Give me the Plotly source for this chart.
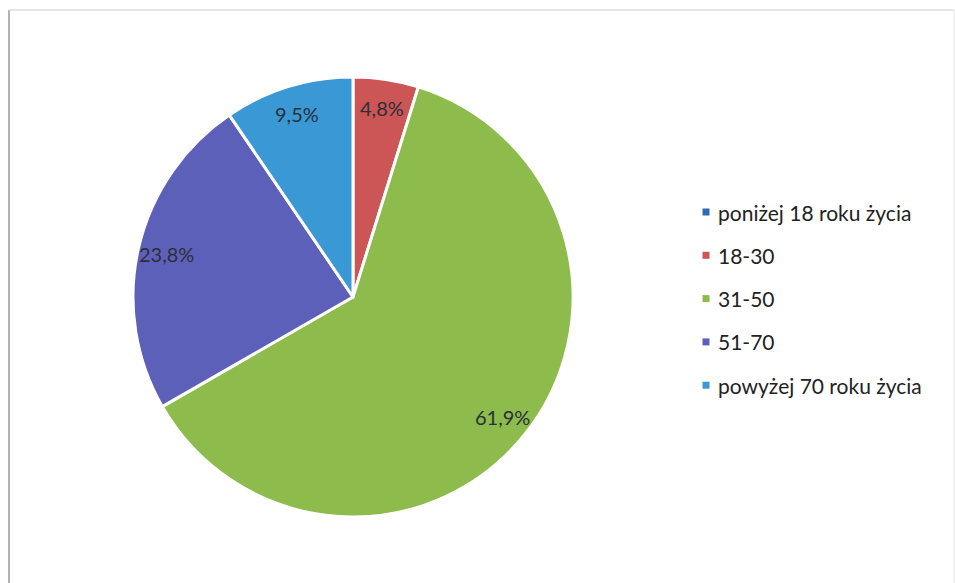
import math
import plotly.graph_objects as go

# Age groups and their shares (%)
categories = ["poniżej 18 roku życia", "18-30", "31-50", "51-70", "powyżej 70 roku życia"]
shares = [0.0, 4.8, 61.9, 23.8, 9.5]
colors = ["#2f6bb5", "#cc5656", "#8dbb4c", "#5d60b8", "#3a98d4"]

W, H = 955, 583
cx, cy, R = 353, 297, 220  # pie centre and radius in pixels

def px(x):
    return x / W

def py(y):
    return 1 - y / H

fig = go.Figure()
fig.add_trace(go.Pie(
    labels=categories,
    values=shares,
    marker=dict(colors=colors, line=dict(color="white", width=3)),
    sort=False,
    direction="clockwise",
    rotation=0,
    textinfo="none",
    hoverinfo="label+percent",
    showlegend=False,
    domain=dict(x=[px(cx - R), px(cx + R)], y=[py(cy + R), py(cy - R)]),
))

annotations = []
shapes = []

# Percentage labels placed along each slice's mid-angle
total = sum(shares)
cum = 0.0
for name, v in zip(categories, shares):
    if v > 0:
        mid = (cum + v / 2) / total * 2 * math.pi
        r = 0.87 * R
        lx = cx + r * math.sin(mid)
        ly = cy - r * math.cos(mid)
        annotations.append(dict(
            x=px(lx), y=py(ly), xref="paper", yref="paper",
            xanchor="center", yanchor="middle",
            text=f"{v:.1f}%".replace(".", ","), showarrow=False,
            font=dict(family="Lato, Carlito, sans-serif", size=20, color="#2a2f3a"),
        ))
    cum += v

# Legend: small squares with labels
leg_x, leg_y0, leg_dy = 706, 212, 43.3
for i, (name, c) in enumerate(zip(categories, colors)):
    y = leg_y0 + i * leg_dy
    shapes.append(dict(type="rect", xref="paper", yref="paper",
                       x0=px(leg_x - 3.5), x1=px(leg_x + 3.5),
                       y0=py(y + 3.5), y1=py(y - 3.5),
                       fillcolor=c, line=dict(width=0)))
    annotations.append(dict(
        x=px(leg_x + 10), y=py(y), xref="paper", yref="paper",
        text=name, showarrow=False, xanchor="left", yanchor="middle",
        font=dict(family="Lato, Carlito, sans-serif", size=21, color="#222222"),
    ))

# Chart frame
shapes.append(dict(type="line", xref="paper", yref="paper",
                   x0=px(9), x1=px(9), y0=py(10), y1=py(583),
                   line=dict(color="#9a9a9a", width=1.5)))
shapes.append(dict(type="line", xref="paper", yref="paper",
                   x0=px(9), x1=px(954), y0=py(10), y1=py(10),
                   line=dict(color="#dddddd", width=1.5)))
shapes.append(dict(type="line", xref="paper", yref="paper",
                   x0=px(954), x1=px(954), y0=py(10), y1=py(583),
                   line=dict(color="#e6e6e6", width=1)))

fig.update_layout(
    width=W, height=H,
    margin=dict(l=0, r=0, t=0, b=0),
    paper_bgcolor="white",
    plot_bgcolor="white",
    annotations=annotations,
    shapes=shapes,
)

fig.write_html("out.html")
